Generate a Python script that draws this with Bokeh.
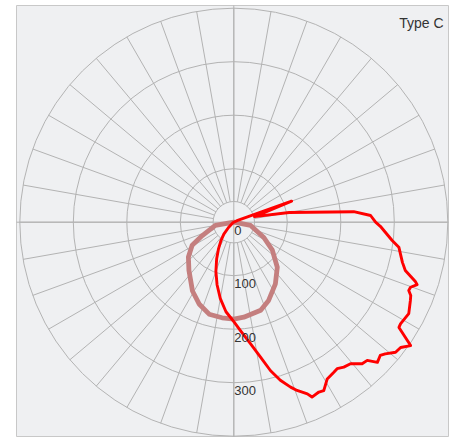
import numpy as np
from bokeh.plotting import figure
from bokeh.models import Range1d, Label
from bokeh.core.properties import value
from bokeh.embed import file_html
from bokeh.resources import INLINE

# ---- grid / labels ----
ring_values = [100, 200, 300, 400]
label_values = [0, 100, 200, 300]
label_texts = ["0", "100", "200", "300"]
spoke_angles = list(range(0, 360, 10))
hole_radius = 38.7
title_text = "Type C"

# ---- red series (C180 side: gamma descending, then C0 side ascending) ----
red_c180_gamma = [90, 60, 50, 45, 40, 35, 30, 25, 20, 15, 10, 5]
red_c180_I = [0, 2, 5, 14, 29, 42, 57, 76, 98, 121, 145, 168]
red_c0_gamma = [0, 3.5, 7.8, 11.2, 13.9, 16.4, 19, 20.6, 23.2, 24.1, 26.6, 28.1,
                30.8, 33.7, 35.2, 37.2, 39.5, 42.2, 44, 45.7, 47.7, 49, 51.2, 53.1,
                55.1, 57.5, 58.6, 62.4, 66.1, 67.5, 68.7, 69.8, 71.2, 71.9, 74.3,
                76.6, 81.4, 83.4, 88.4, 90, 92.8, 95, 100, 105, 110, 115, 120]
red_c0_I = [186, 203, 229, 257, 286, 308, 326, 336, 349, 358, 355, 357,
            341, 337, 335, 340, 343, 357, 359, 375, 370, 375, 388, 390,
            403, 366, 365, 369, 361, 358, 351, 352, 362, 357, 333,
            324, 312, 298, 274, 265, 256, 225, 105, 40, 115, 8, 0]

# ---- brown series ----
brown_c180_gamma = [90, 80, 67, 61, 52.5, 43, 31, 23, 15, 7]
brown_c180_I = [0, 35, 64, 89, 107, 123, 150, 166, 178, 180]
brown_c0_gamma = [0, 6, 17, 24, 34, 44, 54, 63, 79, 90]
brown_c0_I = [181, 178.5, 172, 160, 139, 117, 89, 63, 32, 0]


def polar_xy(g_left, i_left, g_right, i_right):
    gl = np.radians(np.asarray(g_left, dtype=float))
    gr = np.radians(np.asarray(g_right, dtype=float))
    il = np.asarray(i_left, dtype=float)
    ir = np.asarray(i_right, dtype=float)
    x = np.concatenate([-il * np.sin(gl), ir * np.sin(gr)])
    y = np.concatenate([-il * np.cos(gl), -ir * np.cos(gr)])
    return x, y


p = figure(width=450, height=437, output_backend="svg", toolbar_location=None,
           x_axis_location=None, y_axis_location=None,
           x_range=Range1d(-406.2, 401.3), y_range=Range1d(-402.4, 405.0),
           min_border_left=16, min_border_right=2, min_border_top=5, min_border_bottom=0)
p.grid.visible = False
p.background_fill_color = "#eff0f2"
p.border_fill_color = "white"
p.outline_line_color = "#c8c8c8"
p.outline_line_width = 1

grid_color = "#b3b3b3"

# rings
p.circle(x=[0] * (len(ring_values) + 1), y=[0] * (len(ring_values) + 1),
         radius=[hole_radius] + ring_values, fill_color=None,
         line_color=grid_color, line_width=1)

# spokes
a = np.radians(np.asarray(spoke_angles, dtype=float))
outer = ring_values[-1]
p.segment(x0=hole_radius * np.sin(a), y0=hole_radius * np.cos(a),
          x1=outer * np.sin(a), y1=outer * np.cos(a),
          line_color=grid_color, line_width=1)
# main axes through the centre
p.segment(x0=[-420, 0], y0=[0, -420], x1=[420, 0], y1=[0, 420],
          line_color=grid_color, line_width=1)

# series
bx, by = polar_xy(brown_c180_gamma, brown_c180_I, brown_c0_gamma, brown_c0_I)
p.line(bx, by, line_color="#c47f7f", line_width=4.8, line_join="round", line_cap="round")
rx, ry = polar_xy(red_c180_gamma, red_c180_I, red_c0_gamma, red_c0_I)
p.line(rx, ry, line_color="#ff0000", line_width=2.9, line_join="round", line_cap="round")

# ring labels
p.text(x=[1] * len(label_values), y=[-v for v in label_values], text=label_texts,
       text_align="left", text_baseline="middle", y_offset=8,
       text_font=value("Liberation Sans"), text_font_size="13px", text_color="#333333")

p.add_layout(Label(x=392, y=372, text=title_text, text_align="right",
                   text_baseline="alphabetic", text_font="Liberation Sans",
                   text_font_size="14px", text_color="#333333"))

open("out.html", "w").write(file_html(p, INLINE))
